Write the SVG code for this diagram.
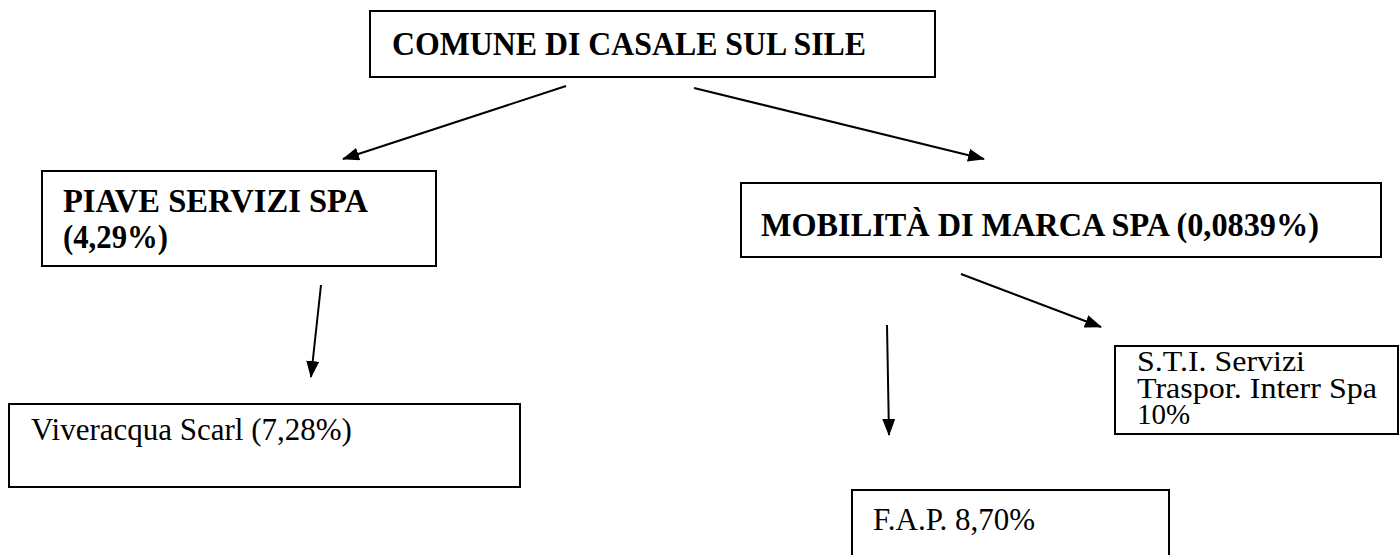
<svg xmlns="http://www.w3.org/2000/svg" width="1399" height="555" viewBox="0 0 1399 555">
<style>
.box{fill:#fff;stroke:#000;stroke-width:2}
.b{font-family:"Liberation Serif","Times New Roman",serif;font-weight:bold;font-size:34px;fill:#000}
.r{font-family:"Liberation Serif","Times New Roman",serif;font-size:31px;fill:#000}
.s{font-family:"Liberation Serif","Times New Roman",serif;font-size:29px;fill:#000}
.c{stroke:#000;stroke-width:2;fill:none;marker-end:url(#ah)}
</style>
<defs>
<marker id="ah" viewBox="0 0 17 13" refX="16" refY="6.5" markerWidth="17" markerHeight="13" markerUnits="userSpaceOnUse" orient="auto">
<path d="M0,0 L17,6.5 L0,13 Z" fill="#000"/>
</marker>
</defs>
<rect width="1399" height="555" fill="#fff"/>
<g id="connectors">
<line class="c" x1="566" y1="86" x2="343" y2="159"/>
<line class="c" x1="694" y1="88" x2="984" y2="159"/>
<line class="c" x1="321" y1="285" x2="311" y2="377"/>
<line class="c" x1="961" y1="274" x2="1101" y2="327"/>
<line class="c" x1="887" y1="325" x2="889" y2="435"/>
</g>
<g id="comune">
<rect class="box" x="370" y="11" width="565" height="66"/>
<text class="b" x="392" y="55" textLength="474" lengthAdjust="spacingAndGlyphs">COMUNE DI CASALE SUL SILE</text>
</g>
<g id="piave">
<rect class="box" x="42" y="171" width="394" height="95"/>
<text class="b" x="63" y="212" textLength="305" lengthAdjust="spacingAndGlyphs">PIAVE SERVIZI SPA</text>
<text class="b" x="63" y="248" textLength="105" lengthAdjust="spacingAndGlyphs">(4,29%)</text>
</g>
<g id="mobilita">
<rect class="box" x="741" y="183" width="640" height="74"/>
<text class="b" x="761" y="236" textLength="558" lengthAdjust="spacingAndGlyphs">MOBILITÀ DI MARCA SPA (0,0839%)</text>
</g>
<g id="sti">
<rect class="box" x="1115" y="346" width="283" height="88"/>
<text class="s" x="1137" y="371" textLength="168" lengthAdjust="spacingAndGlyphs">S.T.I. Servizi</text>
<text class="s" x="1137" y="398" textLength="240" lengthAdjust="spacingAndGlyphs">Traspor. Interr Spa</text>
<text class="s" x="1137" y="424">10%</text>
</g>
<g id="viveracqua">
<rect class="box" x="9" y="404" width="511" height="83"/>
<text class="r" x="31" y="440">Viveracqua Scarl (7,28%)</text>
</g>
<g id="fap">
<rect class="box" x="852" y="490" width="317" height="80"/>
<text class="r" x="873" y="530">F.A.P. 8,70%</text>
</g>
</svg>
